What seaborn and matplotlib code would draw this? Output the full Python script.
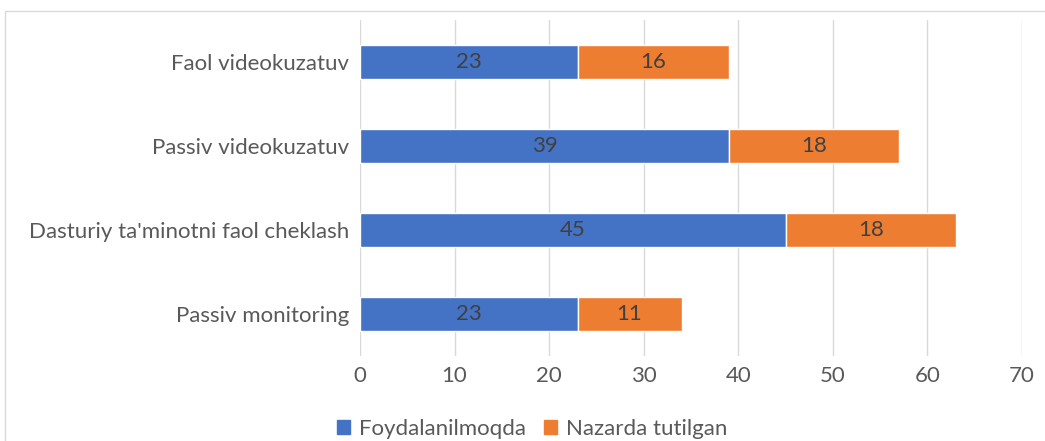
import matplotlib
matplotlib.use("Agg")
import matplotlib.pyplot as plt
import seaborn as sns
import pandas as pd
from matplotlib.patches import Rectangle, Patch

# ma'lumotlar
kategoriyalar = ["Faol videokuzatuv", "Passiv videokuzatuv",
                 "Dasturiy ta'minotni faol cheklash", "Passiv monitoring"]
foydalanilmoqda = [23, 39, 45, 23]
nazarda = [16, 18, 18, 11]
seriya_nomlari = ["Foydalanilmoqda", "Nazarda tutilgan"]

ko_k = "#4472C4"
apelsin = "#ED7D31"

sns.set_style("white")
plt.rcParams["font.family"] = ["Lato", "DejaVu Sans"]

df = pd.DataFrame({"kat": kategoriyalar, "f": foydalanilmoqda, "n": nazarda})

fig = plt.figure(figsize=(10.45, 4.41), dpi=100)
ax = fig.add_axes([0.3445, 0.193, 0.6335, 0.762])

sns.barplot(data=df, y="kat", x="f", color=ko_k, width=0.4, saturation=1, ax=ax)
ypos = ax.get_yticks()
ax.barh(ypos, df["n"], left=df["f"], height=0.4, color=apelsin)

for c in ax.containers:
    ax.bar_label(c, label_type="center", fontsize=16, color="#404040")

ax.set_xlim(0, 70)
ax.set_xticks(range(0, 71, 10))
ax.set_ylim(3.5, -0.5)
ax.xaxis.grid(True, color="#D9D9D9", linewidth=1)
ax.set_axisbelow(True)
for s in ax.spines.values():
    s.set_visible(False)
ax.set_xlabel("")
ax.set_ylabel("")
ax.tick_params(axis="both", length=0, labelsize=16, labelcolor="#595959")
ax.tick_params(axis="x", pad=7)
ax.tick_params(axis="y", pad=8)

# ramka
fig.patches.append(Rectangle((5 / 1045, -0.1), 1.2, 1 - 11 / 441 + 0.1,
                             transform=fig.transFigure, fill=False,
                             edgecolor="#D9D9D9", linewidth=1))

handles = [Patch(color=ko_k), Patch(color=apelsin)]
fig.legend(handles, seriya_nomlari, loc="center", bbox_to_anchor=(0.509, 0.028),
           ncol=2, frameon=False, fontsize=16, handlelength=0.6, handleheight=0.6,
           columnspacing=0.8, handletextpad=0.4, labelcolor="#595959")

fig.savefig("out.png", dpi=100)
